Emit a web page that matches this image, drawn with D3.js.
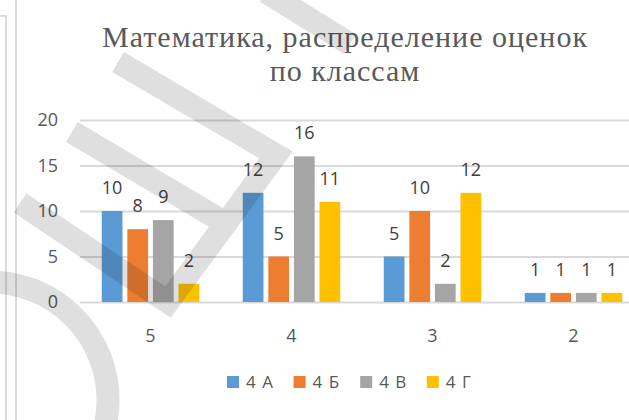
<!DOCTYPE html>
<html>
<head>
<meta charset="utf-8">
<style>
  body { margin: 0; background: #fff; }
  svg { display: block; }
</style>
</head>
<body>
<script src="https://d3js.org/d3.v7.min.js"></script>
<script>

    // Data
    var grades = ["5", "4", "3", "2"];
    var classes = ["4 А", "4 Б", "4 В", "4 Г"];
    var valuesA = [10, 12, 5, 1];
    var valuesB = [8, 5, 10, 1];
    var valuesV = [9, 16, 2, 1];
    var valuesG = [2, 11, 12, 1];
    var yTicks = [0, 5, 10, 15, 20];
    var titleLines = ["Математика, распределение оценок", "по классам"];

    var colors = ["#5B9BD5", "#ED7D31", "#A5A5A5", "#FFC000"];
    var seriesValues = [valuesA, valuesB, valuesV, valuesG];

    var W = 629, H = 420;

    var svg = d3.select("body").append("svg")
        .attr("width", W)
        .attr("height", H);

    // grey frame lines on the left edge
    svg.append("path")
        .attr("d", "M0,16H6V420")
        .attr("fill", "none")
        .attr("stroke", "#dcdcdc")
        .attr("stroke-width", 2);
    svg.append("line")
        .attr("x1", 16).attr("x2", 16)
        .attr("y1", 0).attr("y2", H)
        .attr("stroke", "#dcdcdc")
        .attr("stroke-width", 2);

    // scales
    var x0 = d3.scaleBand().domain(grades).range([80, 644]).paddingInner(0);
    var x1 = d3.scaleBand().domain(classes).range([0, x0.bandwidth()])
        .paddingInner(0.19).paddingOuter(0.85);
    var y = d3.scaleLinear().domain([0, 20]).range([302, 120]);

    // Title (two lines, serif)
    svg.append("g")
        .selectAll("text")
        .data(titleLines)
        .enter().append("text")
        .attr("x", 345)
        .attr("y", function(d, i) { return i === 0 ? 47 : 81; })
        .attr("text-anchor", "middle")
        .style("font-family", "'Liberation Serif'")
        .style("font-size", "30px")
        .style("letter-spacing", "1px")
        .style("fill", "#595959")
        .text(function(d) { return d; });

    var font = "'Open Sans'";

    // gridlines
    svg.append("g")
        .attr("transform", "translate(80,0)")
        .call(d3.axisLeft(y).tickValues(yTicks).tickSize(-(644 - 80)).tickFormat(""))
        .call(function(g) {
            g.select(".domain").remove();
            g.selectAll("line").attr("stroke", "#d9d9d9").attr("stroke-width", 2);
        });

    // Y axis labels
    svg.append("g")
        .selectAll("text")
        .data(yTicks)
        .enter().append("text")
        .attr("x", 58)
        .attr("y", function(d) { return y(d); })
        .attr("dy", "0.35em")
        .attr("text-anchor", "end")
        .style("font-family", font)
        .style("font-size", "18px")
        .style("fill", "#595959")
        .text(function(d) { return d; });

    // bars
    var groups = svg.selectAll("g.grp")
        .data(grades)
        .enter().append("g")
        .attr("class", "grp")
        .attr("transform", function(d) { return "translate(" + x0(d) + ",0)"; });

    function rows(d, gi) {
        return classes.map(function(c, si) { return {c: c, si: si, v: seriesValues[si][gi]}; });
    }

    groups.selectAll("rect")
        .data(rows)
        .enter().append("rect")
        .attr("x", function(d) { return x1(d.c); })
        .attr("width", x1.bandwidth())
        .attr("y", function(d) { return y(d.v); })
        .attr("height", function(d) { return y(0) - y(d.v); })
        .attr("fill", function(d) { return colors[d.si]; });

    // value labels
    groups.selectAll("text")
        .data(rows)
        .enter().append("text")
        .attr("x", function(d) { return x1(d.c) + x1.bandwidth() / 2; })
        .attr("y", function(d) { return y(d.v) - 17; })
        .attr("text-anchor", "middle")
        .style("font-family", font)
        .style("font-size", "18px")
        .style("fill", "#404040")
        .text(function(d) { return d.v; });

    // category labels
    svg.append("g")
        .selectAll("text")
        .data(grades)
        .enter().append("text")
        .attr("x", function(d) { return x0(d) + x0.bandwidth() / 2; })
        .attr("y", 342)
        .attr("text-anchor", "middle")
        .style("font-family", font)
        .style("font-size", "18px")
        .style("fill", "#595959")
        .text(function(d) { return d; });

    // legend
    var legend = svg.append("g")
        .selectAll("g")
        .data(classes)
        .enter().append("g")
        .attr("transform", function(d, i) { return "translate(" + (227 + i * 66.6) + ",376)"; });
    legend.append("rect")
        .attr("width", 12)
        .attr("height", 12)
        .attr("fill", function(d, i) { return colors[i]; });
    legend.append("text")
        .attr("x", 19)
        .attr("y", 12)
        .style("font-family", font)
        .style("font-size", "17px")
        .style("letter-spacing", "1px")
        .style("fill", "#595959")
        .text(function(d) { return d; });

    // faint watermark strokes over the chart
    var wm = svg.append("g")
        .attr("opacity", 0.12)
        .attr("fill", "none")
        .attr("stroke", "#000")
        .attr("stroke-width", 23);
    wm.append("path").attr("d", "M266,-8L350,44");
    wm.append("path").attr("d", "M118,62L276,155L168,302L20,203").attr("stroke-linejoin", "miter");
    wm.append("path").attr("d", "M72,132L232,227");
    wm.append("circle").attr("cx", -10).attr("cy", 400).attr("r", 118);

</script>
</body>
</html>
